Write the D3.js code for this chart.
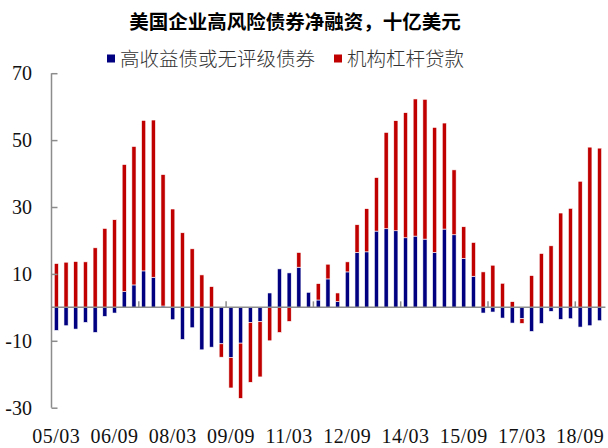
<!DOCTYPE html>
<html><head><meta charset="utf-8">
<script src="https://cdn.jsdelivr.net/npm/d3@7/dist/d3.min.js"></script>
<style>html,body{margin:0;padding:0;background:#fff;}svg{display:block;}</style>
</head><body><svg id="c" width="608" height="448"></svg>
<script>
const categories = ["05/03","05/06","05/09","05/12","06/03","06/06","06/09","06/12","07/03","07/06","07/09","07/12",
"08/03","08/06","08/09","08/12","09/03","09/06","09/09","09/12","10/03","10/06","10/09","10/12",
"11/03","11/06","11/09","11/12","12/03","12/06","12/09","12/12","13/03","13/06","13/09","13/12",
"14/03","14/06","14/09","14/12","15/03","15/06","15/09","15/12","16/03","16/06","16/09","16/12",
"17/03","17/06","17/09","17/12","18/03","18/06","18/09","18/12","19/03"];
const highYield = [-6.9,-5.5,-6.5,-4.5,-7.5,-2.7,-1.7,4.7,6.7,10.9,9.0,0.4,
-3.7,-9.6,-6.1,-12.7,-11.9,-10.9,-15.0,-10.7,-4.5,-4.3,4.3,11.5,
10.3,12.0,4.5,2.2,8.5,1.7,10.6,16.4,16.6,22.8,23.5,22.9,
20.8,21.3,20.4,16.4,23.4,21.7,14.6,9.3,-1.7,-1.4,-3.2,-4.7,
-3.4,-7.2,-4.8,-1.2,-3.6,-3.4,-5.9,-5.5,-4.0];
const levLoans = [13.1,13.5,13.7,13.6,17.8,23.6,26.2,38.0,41.4,45.0,47.0,39.3,
29.4,22.3,17.5,9.7,6.2,-4.0,-9.1,-16.5,-17.9,-16.5,-10.0,-7.5,
-4.2,4.4,0,4.9,4.4,2.6,3.0,8.3,12.9,16.0,28.8,32.9,
37.4,41.0,41.8,37.4,31.7,19.4,9.5,10.1,10.6,12.6,7.2,1.7,
-1.4,9.5,16.1,18.4,28.2,29.6,37.7,47.9,47.6];
const seriesNames = ["高收益债或无评级债券","机构杠杆贷款"];
const seriesColors = ["#000080","#c00000"];
const yTicks = [-30,-10,10,30,50,70];
const labelEvery = 6, tickEvery = 9;

const svg = d3.select("#c");
const x0 = 51.5, x1 = 51.5 + 57*9.7;
const x = d3.scaleBand().domain(d3.range(categories.length)).range([x0, x1]).paddingInner(0.57).paddingOuter(0.285);
const y = d3.scaleLinear().domain([-30,70]).range([407.7, 73.2]);

const table = categories.map((c,i)=>({i, hy: highYield[i], ll: levLoans[i]}));
const stack = d3.stack().keys(["hy","ll"]).offset(d3.stackOffsetDiverging);
const layers = stack(table);

svg.append("g").selectAll("g").data(layers).join("g")
  .attr("fill",(d,k)=>seriesColors[k])
  .selectAll("rect").data(d=>d).join("rect")
  .attr("x",d=>x(d.data.i))
  .attr("width",x.bandwidth())
  .attr("y",d=>y(Math.max(d[0],d[1])))
  .attr("height",d=>Math.abs(y(d[0])-y(d[1])))
  .attr("stroke","#fff").attr("stroke-width",0.6);

const gray = "#8c8c8c";
// y axis
const yAxis = d3.axisRight(y).tickValues(yTicks).tickSize(6).tickFormat("");
const gy = svg.append("g").attr("transform",`translate(${x0},0)`).call(yAxis);
gy.select(".domain").attr("stroke",gray).attr("stroke-width",1.5).attr("d",`M0,${y(-30)}V${y(70)}`);
gy.selectAll(".tick line").attr("stroke",gray).attr("stroke-width",1.5);
svg.append("g").selectAll("text").data(yTicks).join("text")
  .attr("x",32).attr("y",d=>y(d)).attr("dy","0.35em").attr("text-anchor","end")
  .attr("font-family","'Liberation Serif','Times New Roman',serif").attr("font-size",20)
  .attr("fill","#111").text(d=>d);

// x axis at zero
svg.append("line").attr("x1",x0).attr("x2",x1+1).attr("y1",y(0)).attr("y2",y(0))
  .attr("stroke",gray).attr("stroke-width",1.5);
const step = x.step();
const tickIdx = d3.range(tickEvery, categories.length, tickEvery);
svg.append("g").selectAll("line").data(tickIdx).join("line")
  .attr("x1",d=>x0+d*step).attr("x2",d=>x0+d*step).attr("y1",y(0)).attr("y2",y(0)-6)
  .attr("stroke",gray).attr("stroke-width",1.5);
const labIdx = d3.range(0, categories.length, labelEvery);
svg.append("g").selectAll("text").data(labIdx).join("text")
  .attr("x",d=>x(d)+x.bandwidth()/2).attr("y",442.5).attr("text-anchor","middle")
  .attr("font-family","'Liberation Serif','Times New Roman',serif").attr("font-size",20)
  .attr("letter-spacing","0.5px")
  .attr("fill","#111").text(d=>categories[d]);

// title
svg.append("text").attr("x",295).attr("y",20).attr("dominant-baseline","central").attr("text-anchor","middle")
  .attr("font-family","'Noto Sans CJK SC',sans-serif").attr("font-weight",700).attr("font-size",19.5)
  .attr("fill","#000").text("美国企业高风险债券净融资，十亿美元");

// legend
const legX = [107, 334];
const lg = svg.append("g").selectAll("g").data(seriesNames).join("g");
lg.append("rect").attr("x",(d,k)=>legX[k]).attr("y",54.5).attr("width",8).attr("height",8)
  .attr("fill",(d,k)=>seriesColors[k]);
lg.append("text").attr("x",(d,k)=>legX[k]+13).attr("y",57.5).attr("dominant-baseline","central")
  .attr("font-family","'Noto Sans CJK SC',sans-serif").attr("font-weight",300).attr("font-size",19.5)
  .attr("fill","#333").text(d=>d);
</script></body></html>
